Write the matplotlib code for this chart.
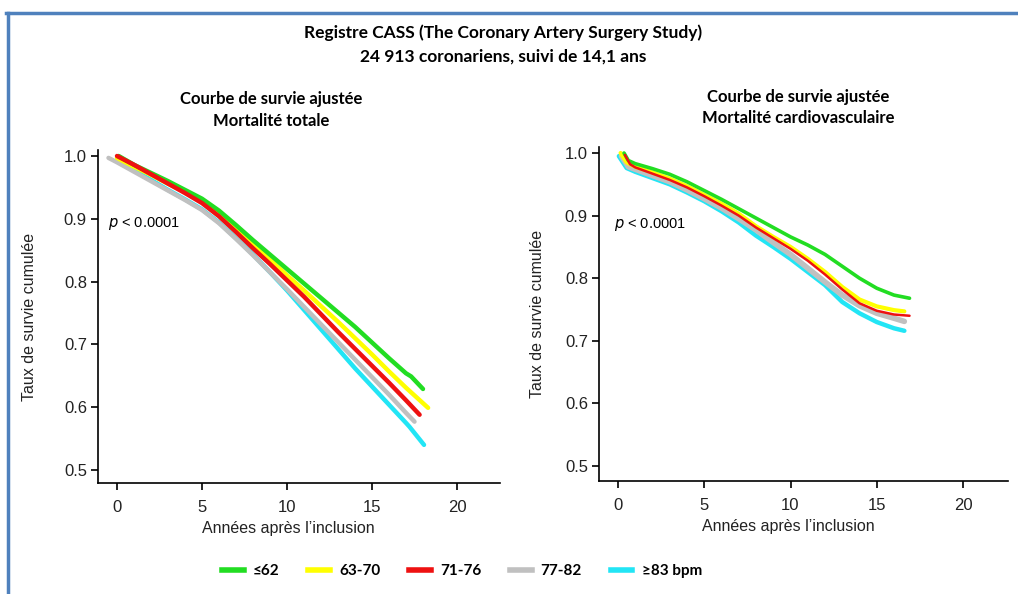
import matplotlib
matplotlib.use("Agg")
import matplotlib.pyplot as plt
from matplotlib.lines import Line2D

# heart-rate groups
groups = ["≤62", "63-70", "71-76", "77-82", "≥83 bpm"]
colors = ["#22dd22", "#ffff00", "#ee1111", "#c0c0c0", "#22e5f5"]

# left panel: total mortality
tot_x = {
    "≤62":     [0.1, 1, 2, 3, 4, 5, 6, 7, 8, 9, 10, 11, 12, 13, 14, 15, 16, 17, 17.3, 18.0],
    "63-70":   [0, 1, 2, 3, 4, 5, 6, 7, 8, 9, 10, 11, 12, 13, 14, 15, 16, 17, 18.3],
    "71-76":   [0, 1, 2, 3, 4, 5, 6, 7, 8, 9, 10, 11, 12, 13, 14, 15, 16, 17, 17.8],
    "77-82":   [-0.5, 0, 1, 2, 3, 4, 5, 6, 7, 8, 9, 10, 11, 12, 13, 14, 15, 16, 17, 17.5],
    "≥83 bpm": [0, 1, 2, 3, 4, 5, 6, 7, 8, 9, 10, 11, 12, 13, 14, 15, 16, 17, 17.2, 18.06],
}
tot_y = {
    "≤62":     [1.0, 0.986, 0.973, 0.960, 0.946, 0.932, 0.913, 0.890, 0.866, 0.843, 0.820,
                0.797, 0.774, 0.751, 0.728, 0.703, 0.678, 0.654, 0.649, 0.629],
    "63-70":   [0.997, 0.983, 0.970, 0.956, 0.943, 0.929, 0.909, 0.885, 0.860, 0.835, 0.810,
                0.786, 0.761, 0.736, 0.710, 0.684, 0.657, 0.631, 0.599],
    "71-76":   [1.0, 0.986, 0.971, 0.956, 0.941, 0.925, 0.904, 0.879, 0.853, 0.828, 0.802,
                0.776, 0.748, 0.720, 0.693, 0.666, 0.639, 0.611, 0.588],
    "77-82":   [0.997, 0.990, 0.975, 0.960, 0.945, 0.930, 0.914, 0.893, 0.868, 0.842, 0.815,
                0.788, 0.760, 0.732, 0.704, 0.676, 0.648, 0.620, 0.591, 0.577],
    "≥83 bpm": [0.993, 0.977, 0.962, 0.946, 0.931, 0.915, 0.894, 0.869, 0.843, 0.815, 0.786,
                0.755, 0.724, 0.693, 0.662, 0.633, 0.604, 0.575, 0.569, 0.540],
}

# right panel: cardiovascular mortality
cv_x = {
    "≤62":     [0.35, 0.6, 1, 2, 3, 4, 5, 6, 7, 8, 9, 10, 11, 12, 13, 14, 15, 16, 16.9],
    "63-70":   [0.15, 0.5, 1, 2, 3, 4, 5, 6, 7, 8, 9, 10, 11, 12, 13, 14, 15, 16, 16.6],
    "71-76":   [0.4, 0.7, 1, 2, 3, 4, 5, 6, 7, 8, 9, 10, 11, 12, 13, 14, 15, 16, 16.9],
    "77-82":   [0.2, 0.6, 1, 2, 3, 4, 5, 6, 7, 8, 9, 10, 11, 12, 13, 14, 15, 16, 16.6],
    "≥83 bpm": [0.05, 0.5, 1, 2, 3, 4, 5, 6, 7, 8, 9, 10, 11, 12, 13, 14, 15, 16, 16.6],
}
cv_y = {
    "≤62":     [1.0, 0.988, 0.983, 0.975, 0.966, 0.954, 0.940, 0.926, 0.911, 0.896, 0.881,
                0.866, 0.853, 0.838, 0.819, 0.800, 0.784, 0.773, 0.768],
    "63-70":   [1.0, 0.985, 0.978, 0.969, 0.959, 0.947, 0.933, 0.919, 0.903, 0.883, 0.866,
                0.850, 0.831, 0.810, 0.786, 0.766, 0.755, 0.749, 0.747],
    "71-76":   [0.997, 0.982, 0.977, 0.967, 0.957, 0.945, 0.931, 0.916, 0.900, 0.881, 0.864,
                0.847, 0.828, 0.806, 0.782, 0.760, 0.748, 0.742, 0.740],
    "77-82":   [0.995, 0.978, 0.974, 0.964, 0.954, 0.941, 0.927, 0.912, 0.895, 0.877, 0.857,
                0.838, 0.816, 0.794, 0.773, 0.756, 0.744, 0.736, 0.731],
    "≥83 bpm": [0.995, 0.976, 0.970, 0.960, 0.950, 0.937, 0.923, 0.907, 0.889, 0.868, 0.850,
                0.831, 0.810, 0.789, 0.762, 0.744, 0.730, 0.720, 0.716],
}

draw_order = ["≥83 bpm", "77-82", "63-70", "≤62", "71-76"]
lw_left = {g: 3.2 for g in groups}
lw_right = {"≤62": 2.6, "63-70": 3.0, "71-76": 1.8, "77-82": 4.0, "≥83 bpm": 3.2}

W, H = 1018, 594
fig = plt.figure(figsize=(W / 100, H / 100), dpi=100)
tick_font = "Liberation Sans"
title_font = "Lato"


def make_axes(px_left, px_right, px_bottom, y_top_px, y10_px, y05_px, x0_px, x20_px):
    ax = fig.add_axes([px_left / W, 1 - px_bottom / H,
                       (px_right - px_left) / W, (px_bottom - y_top_px) / H])
    yu = (y05_px - y10_px) / 0.5
    xu = (x20_px - x0_px) / 20
    ax.set_ylim(0.5 - (px_bottom - y05_px) / yu, 1.0 + (y10_px - y_top_px) / yu)
    ax.set_xlim(-(x0_px - px_left) / xu, (px_right - x0_px) / xu)
    ax.spines["top"].set_visible(False)
    ax.spines["right"].set_visible(False)
    for s in ["left", "bottom"]:
        ax.spines[s].set_linewidth(1.2)
    ax.set_yticks([0.5, 0.6, 0.7, 0.8, 0.9, 1.0])
    ax.set_yticklabels(["0.5", "0.6", "0.7", "0.8", "0.9", "1.0"])
    ax.set_xticks([0, 5, 10, 15, 20])
    ax.tick_params(length=5, width=1.2, labelsize=12, pad=3)
    ax.tick_params(axis="x", pad=7)
    for lab in ax.get_xticklabels() + ax.get_yticklabels():
        lab.set_fontfamily(tick_font)
        lab.set_color("#222222")
    ax.set_xlabel("Années après l\u2019inclusion", fontsize=11.5, family=tick_font,
                  color="#222222")
    ax.set_ylabel("Taux de survie cumulée", fontsize=11.5, family=tick_font,
                  color="#222222")
    return ax


axL = make_axes(98, 500, 483, 150, 156, 470, 117, 457)
axR = make_axes(599, 1008, 481, 147, 153, 466, 618, 963)

for g in draw_order:
    c = colors[groups.index(g)]
    axL.plot(tot_x[g], tot_y[g], color=c, lw=lw_left[g], solid_capstyle="round")
    axR.plot(cv_x[g], cv_y[g], color=c, lw=lw_right[g], solid_capstyle="round")

axL.xaxis.set_label_coords((288 - 98) / 402, -0.115)
axR.xaxis.set_label_coords((788 - 599) / 409, -0.115)
axL.yaxis.set_label_coords((37 - 98) / 402, 0.5)
axR.yaxis.set_label_coords((545 - 599) / 409, 0.5)

axL.text(-0.55, 0.893, "$\\it{p}$ < 0.0001", fontsize=10.5, family=tick_font, va="center")
axR.text(-0.25, 0.886, "$\\it{p}$ < 0.0001", fontsize=10.5, family=tick_font, va="center")

# titles
fig.text(503 / W, 1 - 33 / H, "Registre CASS (The Coronary Artery Surgery Study)",
         ha="center", va="center", fontsize=12.5, weight="bold", family=title_font)
fig.text(503 / W, 1 - 57 / H, "24 913 coronariens, suivi de 14,1 ans",
         ha="center", va="center", fontsize=12.5, weight="bold", family=title_font)
fig.text(271 / W, 1 - 99 / H, "Courbe de survie ajustée",
         ha="center", va="center", fontsize=12, weight="bold", family=title_font)
fig.text(271 / W, 1 - 121 / H, "Mortalité totale",
         ha="center", va="center", fontsize=12, weight="bold", family=title_font)
fig.text(798 / W, 1 - 97 / H, "Courbe de survie ajustée",
         ha="center", va="center", fontsize=12, weight="bold", family=title_font)
fig.text(798 / W, 1 - 118 / H, "Mortalité cardiovasculaire",
         ha="center", va="center", fontsize=12, weight="bold", family=title_font)

# legend
handles = [Line2D([], [], color=c, lw=4) for c in colors]
leg = fig.legend(handles, groups, loc="center", bbox_to_anchor=(462 / W, 1 - 571 / H),
                 ncol=5, frameon=False, handlelength=1.4, columnspacing=1.9,
                 handletextpad=0.6, prop={"family": title_font, "weight": "bold", "size": 11})

# blue frame (top and left edges)
blue = "#4f81bd"
fig.add_artist(Line2D([6 / W, 1], [1 - 13 / H, 1 - 13 / H], color=blue, lw=2.5))
fig.add_artist(Line2D([8 / W, 8 / W], [0, 1 - 13 / H], color=blue, lw=2.5))

fig.savefig("out.png", dpi=100)
